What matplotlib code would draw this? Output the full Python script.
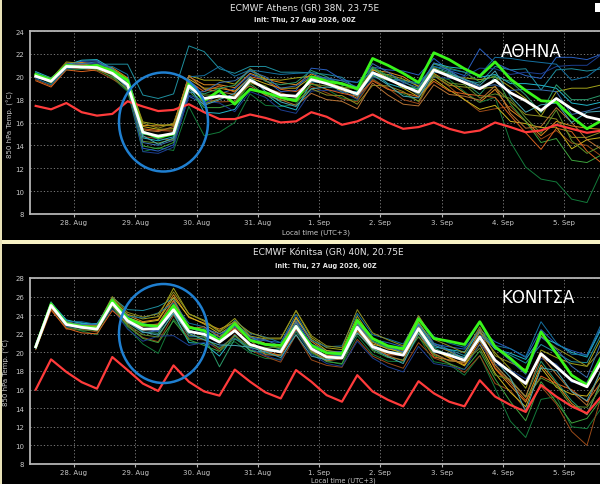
import numpy as np
import matplotlib
matplotlib.use("Agg")
import matplotlib.pyplot as plt
from matplotlib.patches import Ellipse, Rectangle

# time axis: 6-hourly steps, in days from 28 Aug 00:00 local
start_day = -0.625
n_steps = 38
day_labels = ['28. Aug', '29. Aug', '30. Aug', '31. Aug', '1. Sep', '2. Sep', '3. Sep', '4. Sep', '5. Sep']

# ---- Athens ----
ath_mean = [20.05, 19.6, 20.9, 20.85, 20.8, 20.3, 19.3, 15.15, 14.8, 15.05, 19.2, 18.1, 18.3, 18.15, 19.7, 19.0,
            18.4, 18.3, 19.75, 19.4, 18.95, 18.5, 20.35, 19.8, 19.2, 18.65, 20.6, 20.05, 19.5, 18.95, 19.7, 18.6,
            17.9, 17.05, 18.1, 17.2, 16.5, 16.2]
ath_ctrl = [20.2, 19.7, 21.0, 20.85, 21.0, 20.5, 19.7, 15.15, 14.7, 15.0, 19.4, 17.9, 18.8, 17.6, 18.9, 18.6,
            18.2, 17.9, 20.0, 19.6, 19.4, 18.95, 21.6, 21.0, 20.3, 19.5, 22.1, 21.5, 20.7, 20.05, 21.3, 19.8,
            18.8, 17.9, 17.8, 16.5, 15.45, 16.2]
ath_clim = [17.45, 17.15, 17.7, 16.9, 16.6, 16.75, 17.85, 17.4, 17.0, 17.1, 17.6, 16.9, 16.3, 16.3, 16.7, 16.4,
            16.0, 16.1, 16.9, 16.5, 15.8, 16.1, 16.7, 16.0, 15.45, 15.6, 16.0, 15.45, 15.1, 15.3, 16.0, 15.6,
            15.15, 15.3, 15.8, 15.45, 15.1, 15.3]
# members, read as offsets from the ensemble mean
ath_members = [
    [0.2,0.1,0.3,0.4,0.3,0.5,0.6, 0.6,0.9,0.8, 0.8,1.2,1.0,0.9,0.6,0.8,1.1,1.0, 0.5,0.3,-0.2,-0.4,0.2,0.6,0.8,0.5,-0.3,-0.6,-0.9, -1.2,-0.8,-1.5,-1.8,-2.2,-2.0,-1.5,-1.0,-0.8],
    [-0.1,0.1,0.1,0.3,0.3,0.8,1.8, 3.25,3.3,3.45, 3.5,4.1,2.4,2.15,1.2,1.9,2.0,2.1, 0.6,0.8,1.0,0.4,-0.2,0.0,0.5,0.8,0.3,0.4,0.2, 0.5,1.2,2.0,2.8,1.8,2.5,3.5,4.0,4.5],
    [0.1,-0.2,-0.3,-0.2,-0.1,-0.4,-0.6, -1.7,-1.0,-1.5, -1.8,-3.25,-3.15,-2.15,-1.2,-1.5,-1.0,-0.7, -0.4,-0.5,-0.8,-0.6,-0.5,-0.9,-0.7,-0.8,-0.6,-0.3,-0.8, -1.2,-1.5,-4.3,-5.8,-6.0,-7.3,-7.9,-7.5,-4.3],
    [0.3,0.2,0.2,0.5,0.6,0.2,-0.4, -1.4,-1.3,-1.0, -0.9,-0.5,0.2,0.8,0.5,0.7,0.3,0.5, 1.0,1.2,0.8,1.0,0.5,0.8,1.3,1.5,1.0,0.5,0.6, 3.5,1.5,2.0,2.2,2.8,3.6,4.5,5.0,5.8],
    [-0.1,0.2,0.0,0.2,0.1,0.4,0.5, 0.9,1.0,0.7, 0.9,1.6,1.4,1.2,1.0,0.8,1.3,1.6, 0.3,0.2,0.1,0.5,-0.1,0.4,0.6,0.5,0.2,0.1,0.4, 0.8,0.3,0.5,0.2,-0.5,0.6,1.8,2.5,3.1],
    [-0.3,-0.4,-0.2,-0.1,-0.3,-0.5,-0.3, -0.4,-0.2,-0.6, 0.3,0.0,-0.5,-0.3,-0.2,0.0,0.2,-0.1, -0.6,-0.8,-0.9,-0.7,-0.6,-0.8,-1.2,-1.0,-0.5,-0.9,-1.5, -2.0,-2.5,-1.2,-1.8,-2.5,-2.8,-3.0,-2.5,-3.2],
    [0.4,0.3,0.1,0.6,0.7,0.4,0.1, -0.5,-0.4,-0.3, 0.2,-1.2,-1.5,-1.0,-0.7,-0.5,-0.9,-1.2, -0.2,0.1,-0.3,0.2,0.1,-0.4,-0.2,0.3,0.6,0.8,1.2, 1.0,0.5,0.8,1.5,2.2,0.9,0.5,1.0,1.6],
    [0.0,-0.1,0.2,0.1,0.0,0.2,0.3, 0.5,0.6,0.4, 0.6,0.9,0.7,0.6,0.2,0.4,0.6,0.7, 0.2,0.0,-0.2,0.1,0.3,0.1,-0.2,-0.4,-0.8,-1.2,-1.5, -1.8,-2.2,-2.5,-2.0,-1.5,-2.5,-3.5,-2.0,-1.5],
    [0.2,0.3,-0.1,0.0,0.2,-0.2,-0.5, -1.2,-1.1,-0.8, -0.4,-0.8,-1.0,-0.5,-0.3,-0.6,-0.5,-0.2, 0.2,0.4,0.5,0.3,0.5,0.3,0.4,0.2,0.5,0.7,0.9, 0.6,0.4,-1.0,-1.8,-2.8,-3.5,-4.5,-4.0,-3.0],
    [0.1,0.0,0.1,0.2,0.4,0.1,-0.3, -1.7,-1.5,-1.2, -0.8,-0.2,-0.6,-1.2,-1.0,-0.8,-1.3,-1.5, -1.0,-0.6,-0.2,-0.5,-0.4,-0.1,0.2,-0.3,-0.6,-0.2,0.5, 1.8,1.0,1.6,2.5,3.2,2.8,3.8,4.5,5.8],
    [-0.4,-0.5,-0.3,-0.4,-0.2,-0.1,0.1, 0.3,0.5,0.2, 0.4,0.6,0.9,0.5,0.3,0.7,0.5,0.4, -0.3,-0.5,-0.4,-0.2,-0.7,-0.9,-0.6,-0.4,-1.0,-1.3,-1.0, -0.6,-1.5,-2.0,-2.8,-3.4,-2.6,-2.0,-3.0,-3.8],
    [0.3,0.1,0.2,-0.1,0.1,0.3,0.2, -0.2,0.1,-0.1, -0.3,0.4,0.7,1.1,0.9,0.6,0.9,1.2, 0.8,0.6,0.3,0.6,0.4,0.2,0.0,0.3,0.1,0.3,0.0, -0.5,0.3,1.0,0.5,-0.2,1.2,0.8,1.5,2.2],
    [-0.2,-0.3,-0.2,0.0,0.2,0.6,0.9, 0.1,-0.3,0.1, 0.8,2.0,2.6,1.9,0.9,1.4,1.8,2.0, 0.6,0.4,0.7,1.0,0.1,0.0,0.4,0.7,0.3,0.6,0.9, 1.2,2.0,3.0,3.5,4.2,3.0,2.5,3.5,4.8],
    [0.1,0.2,0.4,0.3,0.1,0.0,-0.2, 0.8,0.7,0.9, 0.5,-0.5,-0.2,0.2,-0.2,0.0,-0.3,-0.5, -0.8,-1.0,-0.6,-0.9,-1.1,-0.6,-0.5,-0.8,-0.5,-0.8,-0.4, 0.0,-0.6,-0.8,-1.2,-0.5,-1.8,-2.5,-1.8,-1.0],
    [0.0,0.1,-0.1,0.1,-0.2,-0.3,-0.4, -0.8,-0.6,-0.5, -0.2,0.3,0.1,-0.4,-0.1,0.2,-0.2,-0.3, -0.4,-0.2,0.2,0.0,-0.3,-0.1,0.1,-0.2,-0.4,-0.6,-0.2, -0.8,-1.2,-0.5,-1.5,-2.0,-1.0,-2.8,-3.2,-2.2],
    [0.2,0.0,0.1,0.2,0.1,0.3,0.4, 0.2,0.4,0.6, 0.9,0.8,0.4,0.3,-0.5,-0.6,-0.4,-0.8, -1.2,-1.4,-1.1,-1.3,-0.9,-1.4,-1.6,-1.2,-1.3,-1.6,-1.2, -1.0,-0.5,-1.8,-2.4,-1.4,-0.8,-1.2,-2.0,-2.6],
    [-0.1,0.0,0.2,0.3,0.5,0.4,0.0, -0.9,-0.8,-0.6, -0.6,0.6,1.2,1.5,0.8,1.0,0.6,0.9, 0.3,0.5,0.7,0.6,0.8,0.6,0.3,0.4,0.6,0.5,0.2, 0.2,-0.4,0.2,1.0,1.8,0.6,-0.5,0.5,1.2],
    [0.1,0.2,0.0,-0.1,0.0,-0.1,-0.2, -0.3,-0.7,-0.4, -0.2,-0.6,-0.3,0.4,0.3,-0.3,-0.6,-0.9, -0.8,-0.3,0.0,-0.2,-0.2,-0.5,-0.9,-0.5,-0.2,0.2,0.3, 0.3,0.8,-0.3,-1.0,0.5,-0.4,-1.2,0.4,0.8],
]

# ---- Konitsa ----
kon_mean = [20.6, 25.05, 23.0, 22.7, 22.5, 25.3, 23.4, 22.5, 22.55, 24.6, 22.25, 21.95, 21.1, 22.35, 20.85, 20.35,
            20.05, 22.8, 20.4, 19.5, 19.4, 22.7, 20.6, 20.05, 19.7, 22.55, 20.2, 19.7, 19.15, 21.65, 19.15, 17.9,
            16.65, 19.85, 18.45, 17.0, 16.3, 19.15]
kon_ctrl = [20.6, 25.2, 23.1, 22.8, 22.6, 25.6, 23.6, 22.95, 22.8, 25.05, 22.7, 22.35, 21.3, 23.1, 21.3, 20.85,
            20.75, 22.8, 20.75, 19.95, 19.85, 23.45, 21.5, 20.7, 20.4, 23.6, 21.5, 21.2, 20.85, 23.3, 20.6, 19.35,
            17.9, 22.2, 19.9, 17.55, 16.5, 19.7]
kon_clim = [16.0, 19.25, 17.9, 16.8, 16.1, 19.5, 18.1, 16.65, 15.85, 18.6, 16.85, 15.8, 15.35, 18.15, 16.85, 15.7,
            15.05, 18.1, 16.85, 15.4, 14.7, 17.55, 15.8, 14.9, 14.2, 16.9, 15.6, 14.7, 14.2, 17.0, 15.25, 14.35,
            13.6, 16.5, 15.25, 14.2, 13.45, 15.4]
kon_members = [
    [0.1,0.2,0.2,0.3,0.4,0.5,0.6, 0.8,1.0,1.6, 1.5,1.2,1.4,0.9,0.8,0.6,0.7,1.0, 0.8,0.5,0.4,0.6,0.5,0.3,0.4,0.3,0.1,-0.2,-0.5, -0.4,-0.9,-1.5,-2.0,-1.2,-1.8,-2.5,-3.0,-2.0],
    [-0.1,0.3,0.4,0.5,0.3,0.6,1.2, 2.0,2.4,1.2, 0.4,0.2,0.6,0.8,0.9,0.5,0.3,0.6, 0.2,0.4,0.3,0.9,0.6,0.5,0.3,0.6,0.8,0.6,0.5, 0.9,1.3,1.8,2.2,1.0,1.5,2.0,2.6,3.0],
    [0.0,-0.2,-0.3,-0.4,-0.6,-0.4,-0.8, -1.6,-2.65,-1.0, -0.7,-0.5,-0.6,-1.2,-0.9,-1.0,-0.8,-0.6, -0.5,-0.4,-0.7,-0.9,-0.8,-1.0,-0.7,-0.8,-1.2,-1.0,-1.6, -2.0,-3.0,-5.3,-5.8,-4.9,-3.2,-5.0,-4.5,-5.0],
    [0.2,0.1,0.3,0.2,0.1,0.3,0.2, 0.1,-0.3,-0.2, -0.5,-0.3,0.2,0.5,0.6,0.9,1.0,0.8, 0.5,0.7,0.5,0.4,0.8,1.0,0.9,1.3,0.7,0.9,1.2, 0.8,2.0,2.5,2.8,2.6,2.4,3.2,3.4,3.8],
    [-0.2,-0.3,0.1,0.3,0.2,0.4,0.7, 1.1,1.3,2.3, 1.9,1.5,1.2,1.3,0.9,1.1,1.4,1.7, 1.2,1.0,0.9,1.2,0.8,0.6,0.5,0.7,0.6,0.4,0.2, 0.5,0.8,0.3,-0.5,0.4,1.0,1.8,2.2,2.6],
    [0.1,-0.4,-0.5,-0.2,-0.3,-0.2,-0.5, -0.9,-1.4,-0.6, -0.8,-0.6,-0.9,-0.4,-0.6,-0.8,-1.1,-0.9, -1.2,-0.9,-1.0,-1.3,-1.0,-1.2,-1.4,-1.5,-0.8,-0.9,-1.3, -2.0,-2.5,-2.0,-2.8,-3.5,-4.0,-5.5,-6.3,-3.5],
    [0.2,0.3,0.5,0.4,0.6,0.2,0.4, 0.6,0.2,-0.4, -1.2,-1.0,-1.5,-0.5,-0.7,-0.3,0.1,-0.2, -0.3,0.2,0.3,0.5,0.2,0.0,0.3,0.5,0.4,0.6,0.9, 0.6,1.2,2.0,2.6,1.8,2.5,3.0,3.2,3.6],
    [0.0,-0.1,0.2,0.1,0.3,-0.1,0.3, 0.7,0.9,1.3, 1.6,1.1,0.9,0.7,0.5,0.6,0.4,0.9, 1.0,0.7,0.6,0.8,0.3,0.4,0.2,0.3,0.1,-0.3,-0.6, -0.8,-1.4,-2.2,-2.5,-1.5,-2.2,-1.5,-1.0,-1.5],
    [-0.1,0.1,-0.2,-0.3,-0.1,-0.3,-0.6, -1.0,-1.5,-1.2, -0.9,-1.2,-1.0,-0.8,-0.6,-0.5,-0.3,-0.5, -0.3,-0.5,-0.6,-0.2,-0.4,-0.6,-0.5,-0.3,-0.5,-0.9,-1.0, -1.5,-2.0,-3.2,-4.0,-3.0,-3.8,-4.6,-3.4,-4.0],
    [0.3,0.0,-0.2,-0.1,0.0,-0.6,-0.9, -1.3,-0.8,-2.8, -1.5,-0.9,-0.5,-0.8,-0.4,-0.7,-0.9,-0.4, -0.6,-0.7,-0.9,-1.5,-1.2,-1.6,-1.8,-1.9,-1.4,-1.2,-1.0, -0.7,-0.4,0.2,0.5,-0.5,0.3,-0.2,0.5,0.8],
    [-0.3,-0.5,-0.4,-0.6,-0.5,-0.8,-0.3, 0.3,0.5,0.9, 0.6,0.4,0.3,0.2,0.0,-0.2,-0.4,-0.3, -0.1,0.2,0.1,-0.4,-0.2,-0.3,0.0,-0.5,-0.7,-0.5,-0.3, -0.1,-0.8,-1.2,-1.8,-2.4,-1.8,-1.0,-1.6,-2.2],
    [0.2,0.4,0.1,0.0,0.2,0.4,0.1, -0.3,-0.5,0.3, 0.2,-0.2,-2.65,-0.9,-0.3,-0.1,0.3,0.2, 0.4,0.0,0.2,0.3,0.6,0.4,0.6,0.2,0.3,0.0,0.3, 0.1,-0.5,-1.0,-1.4,-0.8,-1.6,-2.2,-3.0,-2.0],
    [-0.2,0.2,0.3,0.6,0.5,0.2,0.5, 1.2,1.7,0.7, 0.9,0.8,0.5,1.1,1.2,1.3,1.0,1.3, 0.9,1.1,1.3,1.5,1.3,1.4,1.2,1.2,1.5,1.3,1.4, 1.5,1.6,2.5,2.9,3.45,2.6,2.8,3.4,4.15],
    [0.1,-0.2,0.3,0.2,0.4,0.7,0.9, 1.3,1.6,1.9, 1.9,1.4,1.1,1.0,1.3,1.2,1.5,1.7, 1.4,1.2,1.1,1.9,1.5,1.3,1.0,1.4,1.2,1.0,0.8, 1.1,0.5,1.0,1.5,1.9,2.0,2.5,2.2,1.2],
    [0.0,0.1,-0.1,0.1,-0.2,-0.3,-0.4, -0.6,-0.9,-0.3, -0.4,-0.3,-0.7,-0.6,-0.2,0.2,0.5,-0.2, -0.4,-0.2,0.2,-0.6,-0.3,-0.1,0.1,-0.9,-0.4,-0.6,-0.2, -1.2,-1.6,-0.8,-1.5,-2.6,-2.0,-2.8,-2.2,-2.8],
    [0.2,-0.3,0.1,0.2,0.1,0.3,-0.2, 0.4,0.5,1.0, 0.3,0.8,0.6,0.3,0.5,-0.6,-0.4,0.5, -0.2,-0.4,-0.1,0.3,0.2,-0.4,-0.6,0.2,-0.3,-0.6,-0.2, 0.8,-0.5,-1.0,-1.4,-0.2,-0.8,-1.2,-2.0,-0.6],
    [-0.1,0.0,0.2,0.3,0.5,0.4,0.0, -0.4,-0.2,0.5, -0.2,0.6,0.9,0.4,0.8,1.0,0.6,0.4, 0.3,0.5,0.7,0.2,0.8,0.6,0.3,0.4,0.6,0.5,0.2, 0.2,1.4,1.2,1.0,1.8,1.9,1.5,1.0,2.2],
    [0.1,0.2,0.0,-0.1,0.0,-0.1,-0.2, -0.3,-0.7,-0.4, -0.2,-0.6,-0.3,-1.6,-0.3,-0.3,-0.6,-0.9, -0.8,-0.3,0.0,-0.6,-0.2,-0.5,-0.9,-0.5,-0.2,0.2,0.3, -0.3,0.0,-0.6,-3.0,-1.5,-0.4,-1.2,-1.5,-0.8],
]

member_colors = ['#e08a1e', '#1f8f9f', '#137a3a', '#2a5fc0', '#a3a31a', '#9a4a18', '#22b5c8',
                 '#c9b21c', '#3da33d', '#1c3e90', '#d9621e', '#2b9a6a', '#1570a0', '#8f8f20',
                 '#5f8f2a', '#b87333', '#3a6fb0', '#4aa8b5']

W, H = 600, 485
fig = plt.figure(figsize=(6, 4.85), dpi=100, facecolor='black')


def px_box(l, t, r, b):
    return [l / W, 1 - b / H, (r - l) / W, (b - t) / H]


def panel(box, mean, ctrl, clim, members, ylim):
    ax = fig.add_axes(px_box(*box))
    ax.set_facecolor('black')
    x = start_day + 0.25 * np.arange(n_steps)
    mean = np.array(mean)
    for off, c in zip(members, member_colors):
        ax.plot(x, mean + np.array(off), color=c, lw=0.7, zorder=2)
    ax.plot(x, clim, color='#ff3b3b', lw=1.6, zorder=3)
    ax.plot(x, ctrl, color='#39f51a', lw=2.0, zorder=4)
    ax.plot(x, mean, color='white', lw=2.0, zorder=5)
    ax.set_xlim((30 - 74) / 61.25, (box[2] - 74) / 61.25)
    ax.set_ylim(*ylim)
    ax.set_yticks(np.arange(ylim[0], ylim[1] + 1, 2))
    ax.set_xticks(np.arange(len(day_labels)))
    ax.set_xticklabels(day_labels)
    ax.tick_params(colors='#c8c8c8', labelsize=5, length=0, pad=4)
    ax.tick_params(axis='x', length=2, color='#b4b4b4', pad=1.5)
    ax.grid(True, color='#8a8a8a', lw=0.6, linestyle=(0, (1.5, 2.5)))
    ax.set_axisbelow(True)
    for s in ['left', 'top', 'bottom']:
        ax.spines[s].set_color('#b4b4b4')
        ax.spines[s].set_linewidth(1.3)
    ax.spines['right'].set_visible(False)
    return ax


panel((30, 32, 660, 215), ath_mean, ath_ctrl, ath_clim, ath_members, (8, 24))
panel((30, 279, 660, 465), kon_mean, kon_ctrl, kon_clim, kon_members, (8, 28))


def ftext(x, y, s, **kw):
    fig.text(x / W, 1 - y / H, s, **kw)


# titles and labels
ftext(305, 8, 'ECMWF Athens (GR) 38N, 23.75E', color='#e6e6e6', fontsize=6.5, ha='center', va='center')
ftext(305, 20, 'Init: Thu, 27 Aug 2026, 00Z', color='#e6e6e6', fontsize=4.8, ha='center', va='center', fontweight='bold')
ftext(328, 253, 'ECMWF Kónitsa (GR) 40N, 20.75E', color='#e6e6e6', fontsize=6.5, ha='center', va='center')
ftext(326, 266, 'Init: Thu, 27 Aug 2026, 00Z', color='#e6e6e6', fontsize=4.8, ha='center', va='center', fontweight='bold')
ftext(10, 124, '850 hPa Temp. (°C)', color='#c8c8c8', fontsize=5, rotation=90, ha='center', va='center')
ftext(6, 372, '850 hPa Temp. (°C)', color='#c8c8c8', fontsize=5, rotation=90, ha='center', va='center')
ftext(316, 233, 'Local time (UTC+3)', color='#c8c8c8', fontsize=5, ha='center', va='center')
ftext(343, 481, 'Local time (UTC+3)', color='#c8c8c8', fontsize=4.8, ha='center', va='center')
ftext(531, 52, 'ΑΘΗΝΑ', color='white', fontsize=12, ha='center', va='center')
ftext(538, 298, 'ΚΟΝΙΤΣΑ', color='white', fontsize=12, ha='center', va='center')

# highlight circles
for cy in (123, 334.5):
    fig.patches.append(Ellipse((163.5 / W, 1 - cy / H), 89 / W, 99 / H, transform=fig.transFigure,
                               fill=False, edgecolor='#1f7fd0', lw=1.8, zorder=10))

# frame pieces from the screenshot
fig.patches.append(Rectangle((0, 1 - 245 / H), 1, 4 / H, transform=fig.transFigure,
                             facecolor='#f7f1c4', edgecolor='none', zorder=11))
fig.patches.append(Rectangle((0, 0), 1.5 / W, 1, transform=fig.transFigure,
                             facecolor='#e8e2b8', edgecolor='none', zorder=11))
fig.patches.append(Rectangle((595 / W, 1 - 13 / H), 5 / W, 9 / H, transform=fig.transFigure,
                             facecolor='white', edgecolor='none', zorder=11))

fig.savefig('out.png', dpi=100, facecolor='black')
